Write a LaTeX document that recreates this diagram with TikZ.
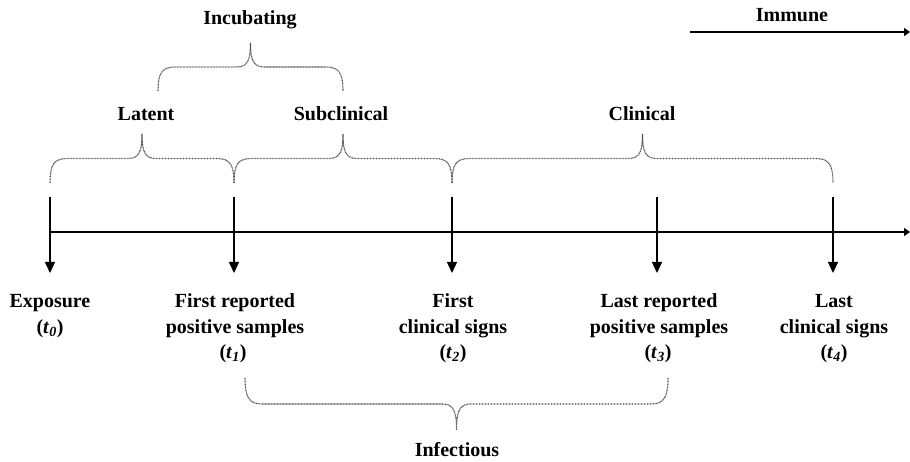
\documentclass[tikz,border=0pt]{standalone}
\usepackage{fontspec}
\setmainfont{Liberation Serif}
\usetikzlibrary{arrows.meta}
\newcommand\drawbrace[5]{%
  \draw[bracestyle] (#1,#3) .. controls (#1,{#3+#4*0.37*#5}) and ({#1+4},{#3+#4*0.5*#5}) .. ({#1+17},{#3+#4*0.5*#5})
  -- ({(#1+#2)/2-14},{#3+#4*0.5*#5}) .. controls ({(#1+#2)/2-3},{#3+#4*0.5*#5}) and ({(#1+#2)/2},{#3+#4*0.64*#5}) .. ({(#1+#2)/2},{#3+#4*#5})
  .. controls ({(#1+#2)/2},{#3+#4*0.64*#5}) and ({(#1+#2)/2+3},{#3+#4*0.5*#5}) .. ({(#1+#2)/2+14},{#3+#4*0.5*#5})
  -- ({#2-17},{#3+#4*0.5*#5}) .. controls ({#2-4},{#3+#4*0.5*#5}) and (#2,{#3+#4*0.37*#5}) .. (#2,#3);}
\tikzset{
  bracestyle/.style={black!70, line width=1.1pt, dash pattern=on 0.9pt off 0.6pt},
  tick/.style={line width=1.3pt, -{Triangle[length=11pt,width=10pt]}},
  axisline/.style={line width=1.8pt, -{Triangle[length=6pt,width=8pt]}},
  lbl/.style={font=\fontsize{20}{25}\selectfont\bfseries, anchor=base, inner sep=0pt},
}
\newcommand\tsub[1]{(\textit{t}\textsubscript{\textit{#1}})}
\begin{document}
\begin{tikzpicture}[x=1pt,y=-1pt]
\useasboundingbox (0,0) rectangle (910,462);
% timeline
\coordinate (axL) at (50,232);
\coordinate (axR) at (910,232);
\draw[axisline] (axL) -- (axR);
% immune line
\coordinate (imL) at (690,32);
\coordinate (imR) at (910,32);
\draw[axisline] (imL) -- (imR);
\node[lbl] (immune) at (792,22) {Immune};
% ticks
\foreach \n/\x in {0/50,1/234,2/452,3/657,4/833}{
  \coordinate (top\n) at (\x,197);
  \coordinate (bot\n) at (\x,273);
  \draw[tick] (top\n) -- (bot\n);
}
% labels under ticks
\node[lbl] (e1) at (50,308) {Exposure};
\node[lbl] (e2) at (50,333) {\tsub{0}};
\node[lbl] (a1) at (235,308) {First reported};
\node[lbl] (a2) at (235,333) {positive samples};
\node[lbl] (a3) at (233,358) {\tsub{1}};
\node[lbl] (b1) at (453,308) {First};
\node[lbl] (b2) at (453,333) {clinical signs};
\node[lbl] (b3) at (453,358) {\tsub{2}};
\node[lbl] (c1) at (659,308) {Last reported};
\node[lbl] (c2) at (659,333) {positive samples};
\node[lbl] (c3) at (658,358) {\tsub{3}};
\node[lbl] (d1) at (834,308) {Last};
\node[lbl] (d2) at (834,333) {clinical signs};
\node[lbl] (d3) at (834,358) {\tsub{4}};
% braces
\drawbrace{50}{234}{183}{-1}{49}
\drawbrace{234}{452}{183}{-1}{49}
\drawbrace{452}{833}{183}{-1}{49}
\drawbrace{158}{343}{91}{-1}{48}
\drawbrace{245}{668}{378}{1}{52}
% brace labels
\node[lbl] (latent) at (146,121) {Latent};
\node[lbl] (subcl) at (341,121) {Subclinical};
\node[lbl] (clin) at (642,121) {Clinical};
\node[lbl] (incub) at (250,25) {Incubating};
\node[lbl] (infect) at (457,456) {Infectious};
\end{tikzpicture}
\end{document}
